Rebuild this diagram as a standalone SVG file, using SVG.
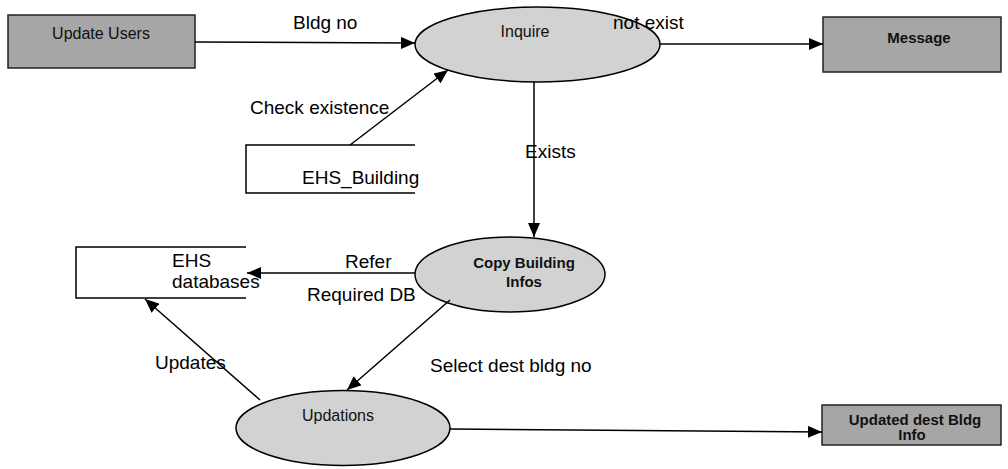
<svg xmlns="http://www.w3.org/2000/svg" width="1008" height="469" viewBox="0 0 1008 469">
  <defs>
    <marker id="arrow" viewBox="0 0 14 12" refX="14" refY="6" markerWidth="14" markerHeight="12" markerUnits="userSpaceOnUse" orient="auto">
      <path d="M0,0 L14,6 L0,12 Z" fill="#000"/>
    </marker>
  </defs>
  <style>
    .entity { fill: #a6a6a6; stroke: #222; stroke-width: 1.5; }
    .process { fill: #d2d2d2; stroke: #000; stroke-width: 1.5; }
    .store { fill: none; stroke: #000; stroke-width: 1.5; }
    .flow { fill: none; stroke: #000; stroke-width: 1.5; marker-end: url(#arrow); }
    .node-text { font-family: "Liberation Sans", Arial, sans-serif; font-size: 16px; fill: #111; text-anchor: middle; }
    .bold { font-weight: bold; font-size: 15px; }
    .label { font-family: "Liberation Sans", Arial, sans-serif; font-size: 19px; fill: #000; }
  </style>

  <rect width="1008" height="469" fill="#fff"/>

  <!-- external entities -->
  <g id="update-users">
    <rect class="entity" x="8" y="15" width="187" height="53"/>
    <text class="node-text" x="101" y="39">Update Users</text>
  </g>
  <g id="message">
    <rect class="entity" x="823" y="17" width="178" height="55"/>
    <text class="node-text bold" x="919" y="43">Message</text>
  </g>
  <g id="updated-dest-bldg">
    <rect class="entity" x="822" y="405" width="179" height="40"/>
    <text class="node-text bold" x="915" y="425">Updated dest Bldg</text>
    <text class="node-text bold" x="912" y="440">Info</text>
  </g>

  <!-- processes -->
  <g id="inquire">
    <ellipse class="process" cx="537.5" cy="44.5" rx="122.5" ry="37.5"/>
    <text class="node-text" x="525" y="37">Inquire</text>
  </g>
  <g id="copy-building-infos">
    <ellipse class="process" cx="510" cy="274.5" rx="95" ry="37.5"/>
    <text class="node-text bold" x="524" y="268">Copy Building</text>
    <text class="node-text bold" x="524" y="287">Infos</text>
  </g>
  <g id="updations">
    <ellipse class="process" cx="343" cy="428" rx="107" ry="37.5"/>
    <text class="node-text" x="338" y="421">Updations</text>
  </g>

  <!-- data stores -->
  <g id="ehs-building">
    <path class="store" d="M415,145 H246 V193 H415"/>
    <text class="label" x="302" y="184">EHS_Building</text>
  </g>
  <g id="ehs-databases">
    <path class="store" d="M246,247 H76 V298 H246"/>
    <text class="label" x="172" y="267">EHS</text>
    <text class="label" x="172" y="288">databases</text>
  </g>

  <!-- data flows -->
  <g id="connectors">
    <line class="flow" x1="195" y1="42" x2="415" y2="43"/>
    <line class="flow" x1="660" y1="44" x2="823" y2="44"/>
    <line class="flow" x1="350" y1="145" x2="448" y2="70"/>
    <line class="flow" x1="534" y1="82" x2="534" y2="237"/>
    <line class="flow" x1="415" y1="273" x2="247" y2="273"/>
    <line class="flow" x1="450" y1="300" x2="347" y2="390"/>
    <line class="flow" x1="260" y1="400" x2="145" y2="299"/>
    <line class="flow" x1="450" y1="429" x2="822" y2="432"/>

    <text class="label" x="293" y="29">Bldg no</text>
    <text class="label" x="613" y="29">not exist</text>
    <text class="label" x="250" y="114">Check existence</text>
    <text class="label" x="525" y="158">Exists</text>
    <text class="label" x="345" y="268">Refer</text>
    <text class="label" x="307" y="301">Required DB</text>
    <text class="label" x="155" y="369">Updates</text>
    <text class="label" x="430" y="372">Select dest bldg no</text>
  </g>
</svg>
